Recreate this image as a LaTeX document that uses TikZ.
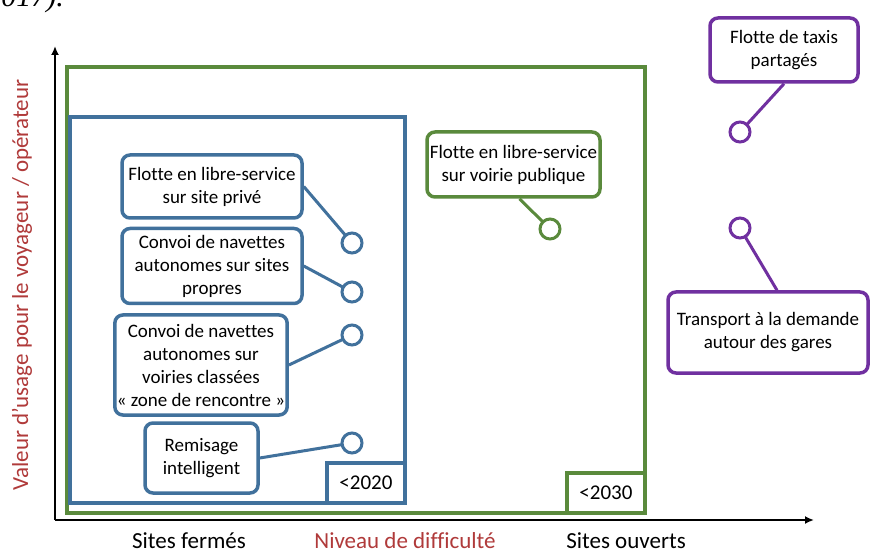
\documentclass[tikz,border=0pt]{standalone}
\usepackage{fontspec}
\setmainfont{Carlito}[Ligatures=CommonOff]
\newfontfamily\serifit{Liberation Serif}
\usetikzlibrary{arrows.meta}
\definecolor{cblue}{HTML}{41719C}
\definecolor{cgreen}{HTML}{5A8A3C}
\definecolor{cpurple}{HTML}{7030A0}
\definecolor{cred}{HTML}{B03A3A}
\begin{document}
\begin{tikzpicture}[x=1pt,y=-1pt,
  callout/.style={draw=#1, line width=3.5pt, rounded corners=8pt, fill=white, text=black, align=center,
    inner sep=2pt, font=\fontsize{19}{23}\selectfont},
  pin/.style={circle, draw=#1, line width=3pt, fill=white, minimum size=20pt, inner sep=0pt},
  link/.style={line width=3pt, draw=#1},
  yearbox/.style={draw=#1, line width=3.5pt, fill=white, text=black, inner sep=0pt, font=\fontsize{21}{25}\selectfont},
  axislab/.style={font=\fontsize{23}{27}\selectfont},
  axis/.style={line width=1.8pt, -{Latex[length=9pt,width=8pt]}}
]
\useasboundingbox (0,0) rectangle (873,553);
\fill[white] (0,0) rectangle (873,553);

% cut fragment of page text
\node[anchor=base east, inner sep=0pt, font=\serifit\itshape\fontsize{30}{34}\selectfont] (frag) at (64,7) {2017).};

% axes
\coordinate (origin) at (55,520);
\coordinate (ytop) at (55,46);
\coordinate (xend) at (814,520);
\draw[axis] (origin) -- (ytop);
\draw[axis] (origin) -- (xend);

% big rectangles
\draw[cgreen, line width=4pt] (67,67) rectangle (645,513);
\draw[cblue, line width=4pt] (70,117) rectangle (405,503);

\node[yearbox=cgreen, minimum width=78pt, minimum height=40pt] (y2030) at (606,493) {<2030};
\node[yearbox=cblue, minimum width=78pt, minimum height=40pt] (y2020) at (366,483) {<2020};
\draw[cgreen, line width=4pt] (645,473) -- (645,513) -- (567,513);
\draw[cblue, line width=4pt] (405,463) -- (405,503) -- (327,503);

% blue callouts
\node[callout=cblue, minimum width=180pt, minimum height=63pt] (b1) at (212,186.5)
  {Flotte en libre-service\\sur site privé};
\node[callout=cblue, minimum width=180pt, minimum height=75pt] (b2) at (212,266)
  {Convoi de navettes\\autonomes sur sites\\propres};
\node[callout=cblue, minimum width=172pt, minimum height=100pt] (b3) at (201,365)
  {Convoi de navettes\\autonomes sur\\voiries classées\\«~zone de rencontre~»};
\node[callout=cblue, minimum width=113pt, minimum height=70pt] (b4) at (201.5,458)
  {Remisage\\intelligent};

\coordinate (k1) at (352,243);
\coordinate (k2) at (352,292);
\coordinate (k3) at (352,335);
\coordinate (k4) at (352,443);
\draw[link=cblue] (b1.east) -- (k1);
\draw[link=cblue] (b2.east) -- (k2);
\draw[link=cblue] (b3.east) -- (k3);
\draw[link=cblue] (b4.east) -- (k4);
\node[pin=cblue] (c1) at (k1) {};
\node[pin=cblue] (c2) at (k2) {};
\node[pin=cblue] (c3) at (k3) {};
\node[pin=cblue] (c4) at (k4) {};

% green callout
\node[callout=cgreen, minimum width=173pt, minimum height=65pt] (g1) at (513.5,164.5)
  {Flotte en libre-service\\sur voirie publique};
\coordinate (k5) at (550,229);
\draw[link=cgreen] ([xshift=6pt]g1.south) -- (k5);
\node[pin=cgreen] (c5) at (k5) {};

% purple callouts
\node[callout=cpurple, minimum width=148pt, minimum height=64pt] (p1) at (784,50)
  {Flotte de taxis\\partagés};
\node[callout=cpurple, minimum width=200pt, minimum height=81pt] (p2) at (768,332.5)
  {Transport à la demande\\autour des gares};
\coordinate (k6) at (740,132);
\coordinate (k7) at (740,228);
\draw[link=cpurple] (p1.south) -- (k6);
\draw[link=cpurple] ([xshift=9pt]p2.north) -- (k7);
\node[pin=cpurple] (c6) at (k6) {};
\node[pin=cpurple] (c7) at (k7) {};

% axis labels
\node[axislab] (lf) at (189,541) {Sites fermés};
\node[axislab, text=cred] (ld) at (405,541) {Niveau de difficulté};
\node[axislab] (lo) at (626,541) {Sites ouverts};
\node[axislab, text=cred, rotate=90] (lv) at (22,285) {Valeur d’usage pour le voyageur / opérateur};
\end{tikzpicture}
\end{document}
